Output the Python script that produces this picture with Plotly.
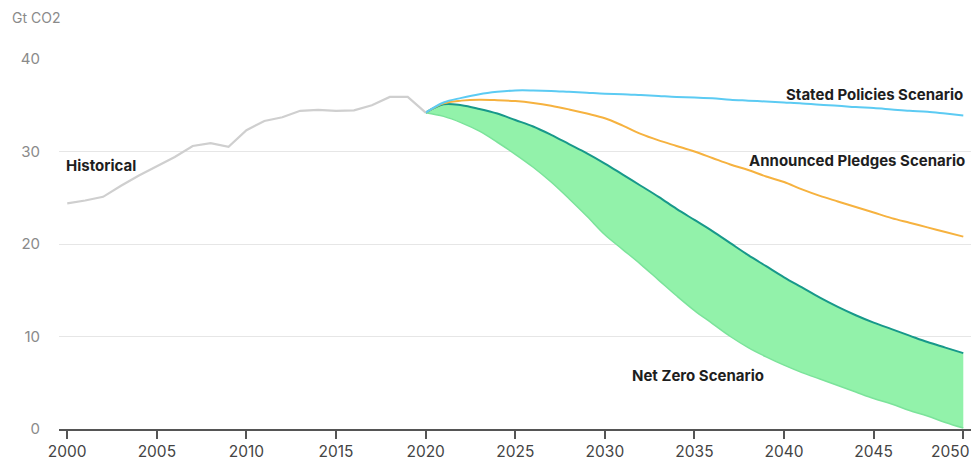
import plotly.graph_objects as go

hist_years = list(range(2000, 2021))
hist_vals = [24.4, 24.7, 25.1, 26.3, 27.4, 28.4, 29.4, 30.6, 30.9, 30.5, 32.3,
             33.3, 33.7, 34.4, 34.5, 34.4, 34.45, 35.0, 35.9, 35.9, 34.2]

proj_years = list(range(2020, 2051))
stated = [34.2, 35.3, 35.8, 36.2, 36.45, 36.6, 36.6, 36.55, 36.45, 36.35, 36.25,
          36.2, 36.1, 36.0, 35.9, 35.85, 35.75, 35.6, 35.5, 35.4, 35.3,
          35.2, 35.05, 34.95, 34.8, 34.7, 34.55, 34.4, 34.3, 34.1, 33.9]
pledges = [34.2, 35.2, 35.5, 35.6, 35.55, 35.45, 35.25, 34.95, 34.55, 34.1, 33.6,
           32.8, 31.9, 31.2, 30.6, 30.0, 29.3, 28.6, 28.0, 27.3, 26.7,
           25.9, 25.2, 24.6, 24.0, 23.4, 22.8, 22.3, 21.8, 21.3, 20.8]
nze_upper = [34.2, 35.1, 35.0, 34.6, 34.1, 33.4, 32.7, 31.8, 30.8, 29.8, 28.7,
             27.5, 26.3, 25.1, 23.8, 22.6, 21.4, 20.1, 18.8, 17.6, 16.4,
             15.3, 14.2, 13.2, 12.3, 11.5, 10.8, 10.1, 9.4, 8.8, 8.2]
nze_lower = [34.2, 33.8, 33.1, 32.2, 31.0, 29.7, 28.3, 26.7, 24.9, 23.0, 21.0,
             19.4, 17.8, 16.1, 14.4, 12.8, 11.4, 10.0, 8.8, 7.8, 6.9,
             6.1, 5.4, 4.7, 4.0, 3.3, 2.7, 2.0, 1.4, 0.7, 0.1]

x_ticks = list(range(2000, 2051, 5))
x_tick_labels = [str(v) for v in x_ticks]
y_ticks = [0, 10, 20, 30, 40]

FONT = "Inter, 'Noto Sans', sans-serif"
sm = 1.0

fig = go.Figure()
fig.add_trace(go.Scatter(x=proj_years, y=nze_lower, mode="lines",
                         line=dict(color="#7be39a", width=1.5, shape="spline", smoothing=sm),
                         hoverinfo="skip", showlegend=False))
fig.add_trace(go.Scatter(x=proj_years, y=nze_upper, mode="lines", fill="tonexty",
                         fillcolor="#92f2aa",
                         line=dict(color="#17988a", width=2, shape="spline", smoothing=sm),
                         showlegend=False))
fig.add_trace(go.Scatter(x=proj_years, y=pledges, mode="lines",
                         line=dict(color="#f6b23f", width=2, shape="spline", smoothing=sm),
                         showlegend=False))
fig.add_trace(go.Scatter(x=proj_years, y=stated, mode="lines",
                         line=dict(color="#5ccbf3", width=2, shape="spline", smoothing=sm),
                         showlegend=False))
fig.add_trace(go.Scatter(x=hist_years, y=hist_vals, mode="lines",
                         line=dict(color="#cfcfcf", width=2.2),
                         showlegend=False))

lab = dict(family=FONT, size=15, color="#1e1e1e")
anns = [
    dict(x=1999.8, y=28.5, text="<b>Historical</b>", xanchor="left"),
    dict(x=2050.1, y=36.2, text="<b>Stated Policies Scenario</b>", xanchor="right"),
    dict(x=2050.2, y=29.0, text="<b>Announced Pledges Scenario</b>", xanchor="right"),
    dict(x=2031.4, y=5.75, text="<b>Net Zero Scenario</b>", xanchor="left"),
]
for a in anns:
    fig.add_annotation(xref="x", yref="y", yanchor="middle", showarrow=False,
                       font=lab, **a)
fig.add_annotation(xref="paper", yref="paper", x=-0.054, y=1.111, xanchor="left",
                   yanchor="middle", text="Gt CO2", showarrow=False,
                   font=dict(family=FONT, size=14, color="#8a8a8a"))

# last tick label is pulled left so it stays inside the frame
tick_font = dict(family=FONT, size=15.5, color="#444")
shown_labels = x_tick_labels[:-1] + [""]
fig.add_annotation(xref="paper", yref="paper", x=1.0, y=-0.062, xanchor="right",
                   yanchor="middle", text=x_tick_labels[-1], showarrow=False,
                   font=tick_font)

fig.update_layout(
    width=975, height=464,
    margin=dict(l=59, r=4, t=59, b=35),
    paper_bgcolor="white", plot_bgcolor="white",
    showlegend=False,
    xaxis=dict(range=[1999.54, 2050.43], tickvals=x_ticks, ticktext=shown_labels,
               showgrid=False,
               zeroline=False, showline=True, linecolor="#555", linewidth=1.5,
               ticks="outside", ticklen=8, tickcolor="#555", tickwidth=1.5,
               tickfont=tick_font),
    yaxis=dict(range=[0, 40], tickvals=y_ticks, showgrid=True, gridcolor="#e6e6e6",
               gridwidth=1, zeroline=False, showline=False, ticks="",
               ticklabelstandoff=18,
               tickfont=dict(family=FONT, size=15, color="#8a8a8a")),
)

fig.write_html("out.html", config={"displayModeBar": False},
               post_script="document.body.style.margin='0';")
